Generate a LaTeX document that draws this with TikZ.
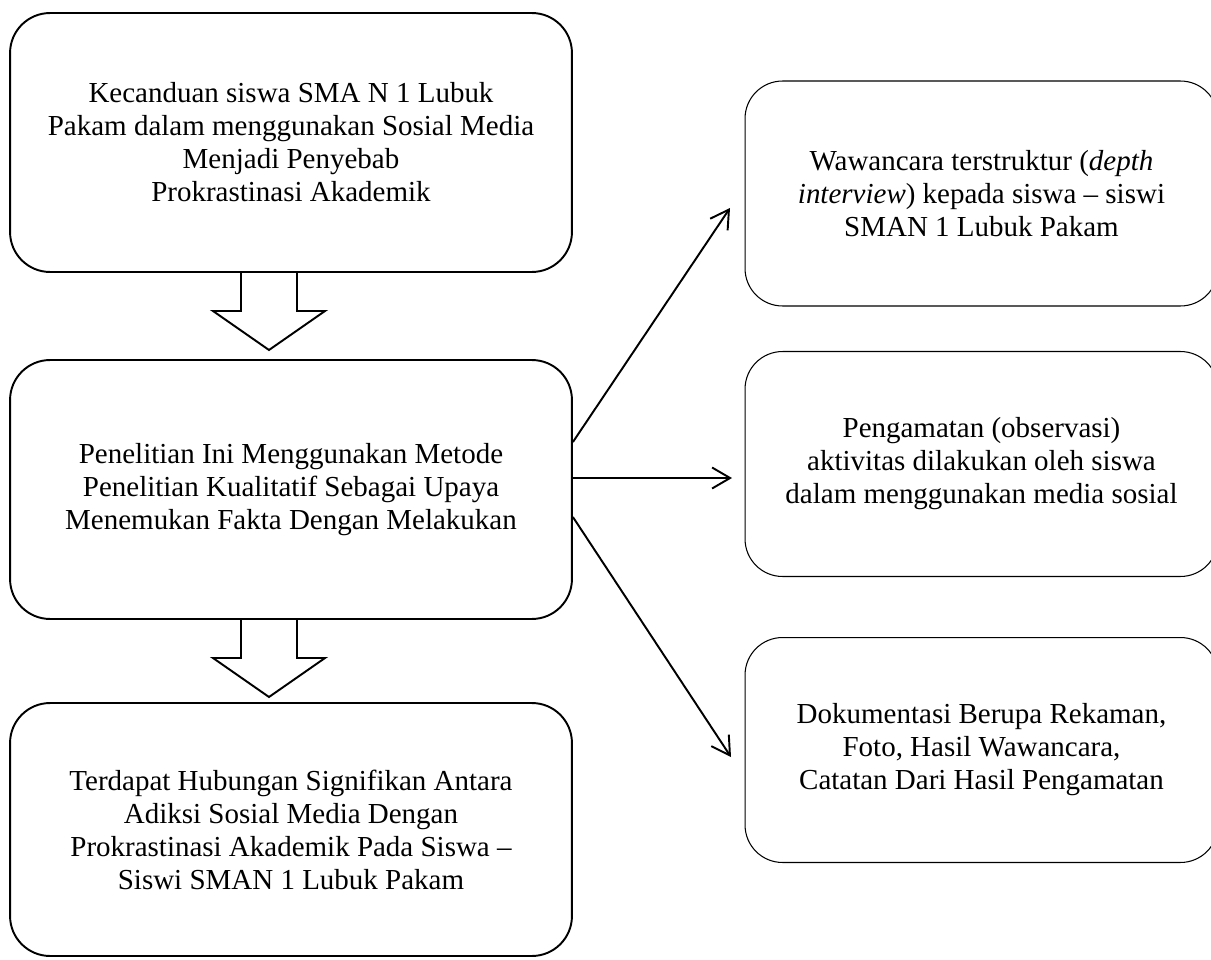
\documentclass[tikz,border=0pt]{standalone}
\usepackage{fontspec}
\setmainfont{Liberation Serif}
\usetikzlibrary{arrows.meta}

\begin{document}
\begin{tikzpicture}[x=0.02cm,y=-0.02cm,>={Straight Barb[length=3.6mm,width=4.2mm]}]
    \tikzset{
        mainbox/.style={draw,line width=1.1pt,rounded corners=0.8cm,minimum width=11.24cm,
            align=center,font=\fontsize{16.5}{18.8}\selectfont},
        sidebox/.style={draw,line width=0.6pt,rounded corners=0.75cm,minimum width=9.46cm,
            minimum height=4.5cm,align=center,font=\fontsize{16.5}{18.8}\selectfont},
        blockarrow/.style={draw,line width=1.1pt,line join=miter},
        link/.style={->,line width=1.1pt}
    }
    \useasboundingbox (0,0) rectangle (1211,960);

    % left column
    \node[mainbox,minimum height=5.18cm] (kecanduan) at (291,142.5)
        {Kecanduan siswa SMA N 1 Lubuk\\
         Pakam dalam menggunakan Sosial Media\\
         Menjadi Penyebab\\
         Prokrastinasi Akademik};
    \node[mainbox,minimum height=5.18cm] (metode) at (291,489.5)
        {Penelitian Ini Menggunakan Metode\\
         Penelitian Kualitatif Sebagai Upaya\\
         Menemukan Fakta Dengan Melakukan};
    \node[mainbox,minimum height=5.06cm] (hasil) at (291,829.5)
        {Terdapat Hubungan Signifikan Antara\\
         Adiksi Sosial Media Dengan\\
         Prokrastinasi Akademik Pada Siswa –\\
         Siswi SMAN 1 Lubuk Pakam};

    % block arrows
    \draw[blockarrow] (241,272) -- (241,311) -- (213,311) -- (269,350)
        -- (325,311) -- (297,311) -- (297,272);
    \draw[blockarrow] (241,619) -- (241,658) -- (213,658) -- (269,697)
        -- (325,658) -- (297,658) -- (297,619);

    % right column
    \node[sidebox] (wawancara) at (981.5,193.5)
        {Wawancara terstruktur (\textit{depth}\\
         \textit{interview}) kepada siswa – siswi\\
         SMAN 1 Lubuk Pakam};
    \node[sidebox] (pengamatan) at (981.5,464)
        {Pengamatan (observasi)\\
         aktivitas dilakukan oleh siswa\\
         dalam menggunakan media sosial};
    \node[sidebox] (dokumentasi) at (981.5,750)
        {Dokumentasi Berupa Rekaman,\\
         Foto, Hasil Wawancara,\\
         Catatan Dari Hasil Pengamatan};

    % connectors
    \coordinate (endA) at (730,208);
    \coordinate (endB) at (732,478);
    \coordinate (endC) at (731,757);
    \draw[link] ([yshift=0.95cm]metode.east) -- (endA);
    \draw[link] ([yshift=0.23cm]metode.east) -- (endB);
    \draw[link] ([yshift=-0.55cm]metode.east) -- (endC);
\end{tikzpicture}
\end{document}
